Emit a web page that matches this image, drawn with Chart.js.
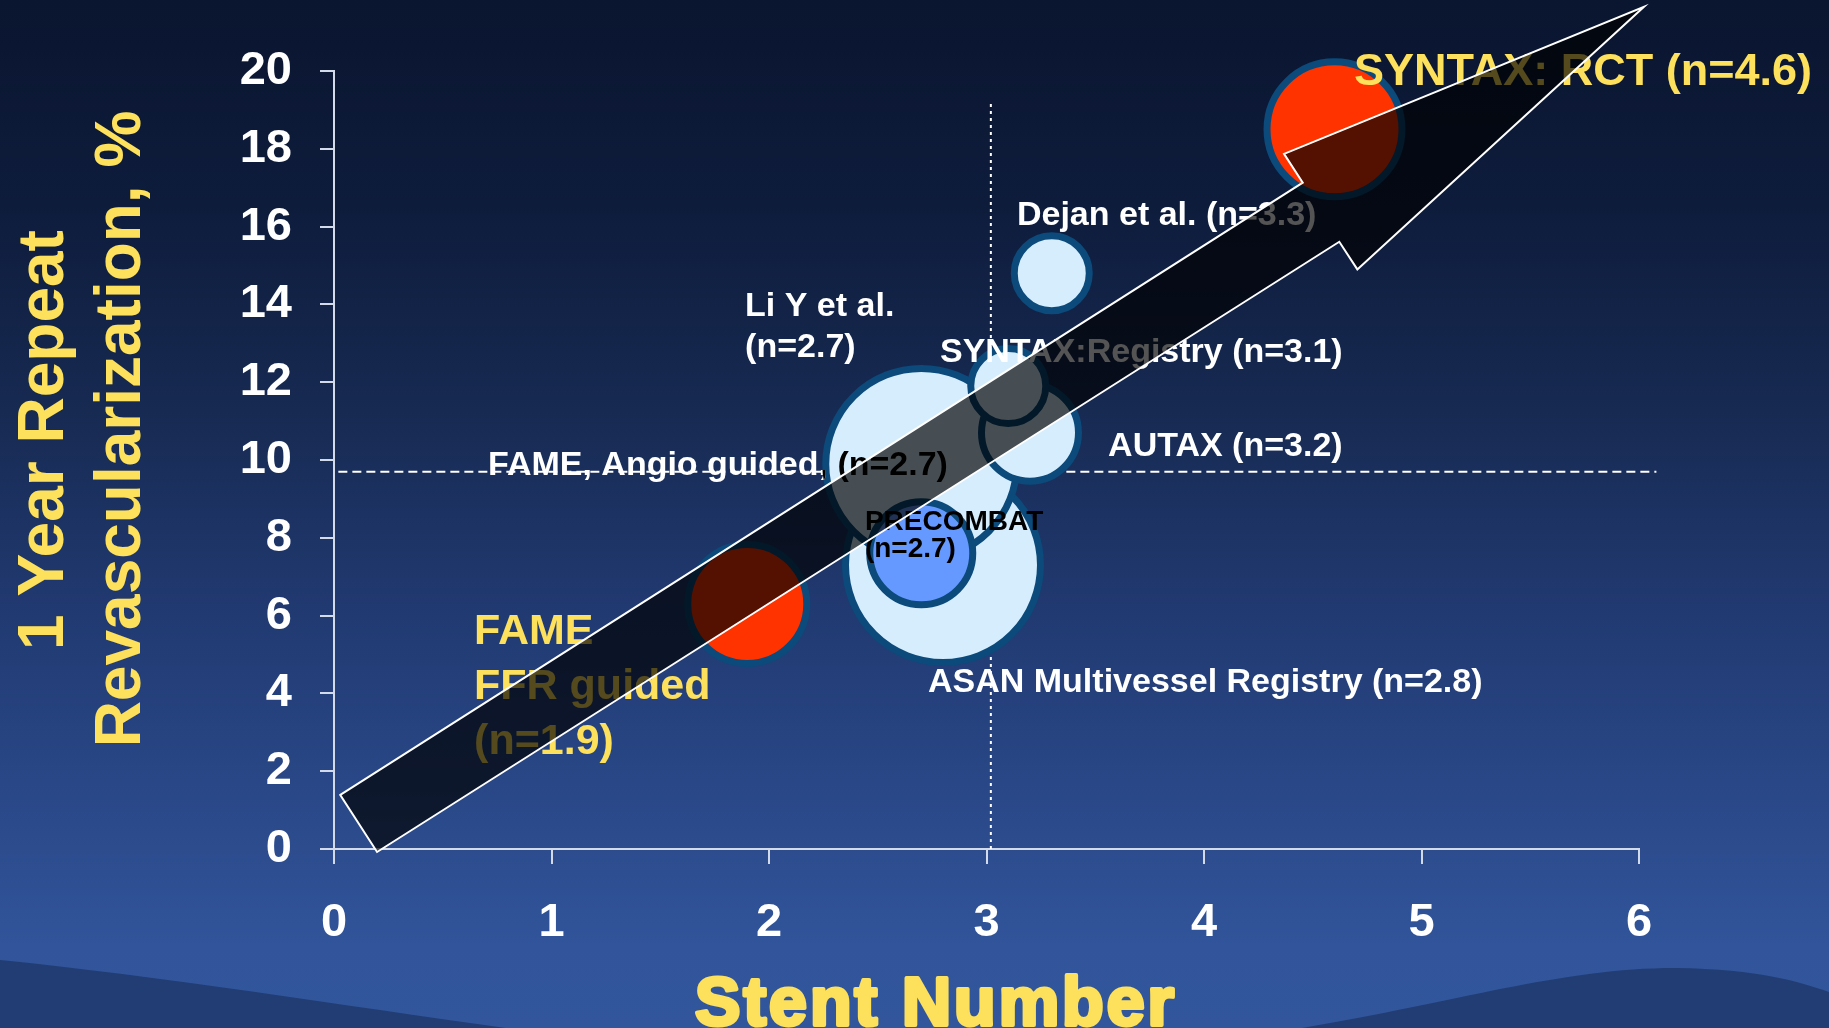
<!DOCTYPE html>
<html>
<head>
<meta charset="utf-8">
<title>Stent number vs 1-year repeat revascularization</title>
<script src="https://cdn.jsdelivr.net/npm/chart.js@4.4.1/dist/chart.umd.min.js"></script>
<style>
  html, body { margin: 0; padding: 0; background: #0a1530; overflow: hidden; }
  canvas { display: block; }
</style>
</head>
<body>
<canvas id="chart" width="1829" height="1028"></canvas>
<script>
// ---- study data -------------------------------------------------------
const studyNames   = ['FAME, FFR guided', 'ASAN Multivessel Registry', 'FAME, Angio guided / Li Y et al.',
                      'PRECOMBAT', 'AUTAX', 'SYNTAX: Registry', 'Dejan et al.', 'SYNTAX: RCT'];
const stentNumber  = [1.9, 2.8, 2.7, 2.7, 3.2, 3.1, 3.3, 4.6];          // mean stents per patient
const repeatRevasc = [6.3, 7.3, 9.9, 7.6, 10.7, 11.9, 14.8, 18.5];       // 1-year repeat revascularization, %
const meanStentNumber = 3.02;
const meanRepeatRevasc = 9.7;

const xTickValues = [0, 1, 2, 3, 4, 5, 6];
const yTickValues = [0, 2, 4, 6, 8, 10, 12, 14, 16, 18, 20];

// ---- appearance --------------------------------------------------------
const FONT = "'Liberation Sans', Arial, Helvetica, sans-serif";
const YELLOW = '#fde05b';
const WHITE = '#ffffff';
const bubbleRadius = [59.5, 97.5, 95.5, 51.5, 48.5, 37.5, 37.5, 67.5];
const bubbleFill   = ['#ff3300', '#d5edfd', '#d5edfd', '#6699ff', '#d5edfd', '#d5edfd', '#d5edfd', '#ff3300'];
const bubbleEdge   = '#0b4a7a';

const nLabel = i => '(n=' + stentNumber[i].toFixed(1) + ')';

// study captions, anchored (left edge, first baseline) in axis units
const captions = [
  { lines: ['Li Y et al.', nLabel(2)], at: [1.89, 13.70], size: 34, gap: 41, color: WHITE },
  { lines: ['FAME, Angio guided, ' + nLabel(2)], at: [0.708, 9.61], size: 34, gap: 0, color: WHITE, insideColor: '#000000', insideOf: 2 },
  { lines: ['SYNTAX:Registry ' + nLabel(5)], at: [2.786, 12.52], size: 34, gap: 0, color: WHITE },
  { lines: ['AUTAX ' + nLabel(4)], at: [3.559, 10.10], size: 34, gap: 0, color: WHITE },
  { lines: ['Dejan et al. ' + nLabel(6)], at: [3.140, 16.05], size: 34, gap: 0, color: WHITE },
  { lines: ['PRECOMBAT', nLabel(3)], at: [2.441, 8.20], size: 28, gap: 27, color: '#000000' },
  { lines: ['ASAN Multivessel Registry ' + nLabel(1)], at: [2.731, 4.04], size: 34, gap: 0, color: WHITE },
  { lines: ['FAME', 'FFR guided', nLabel(0)], at: [0.644, 5.27], size: 43, gap: 55, color: YELLOW },
  { lines: ['SYNTAX: RCT ' + nLabel(7)], at: [4.690, 19.64], size: 45, gap: 0, color: YELLOW }
];

// outline of the trend arrow, in axis units
const trendArrow = [[0.029, 1.39], [4.454, 17.13], [4.368, 17.87], [6.023, 21.65],
                    [4.705, 14.90], [4.622, 15.61], [0.198, -0.077]];

// ---- plugins -----------------------------------------------------------
const backdrop = {
  id: 'backdrop',
  beforeDraw(chart) {
    const { ctx, width, height } = chart;
    ctx.save();
    const g = ctx.createLinearGradient(0, 0, 0, height);
    g.addColorStop(0.00, '#0a152f');
    g.addColorStop(0.20, '#0e1c3c');
    g.addColorStop(0.40, '#172a52');
    g.addColorStop(0.60, '#213a72');
    g.addColorStop(0.80, '#2b4a8b');
    g.addColorStop(0.92, '#31549a');
    g.addColorStop(1.00, '#32569c');
    ctx.fillStyle = g;
    ctx.fillRect(0, 0, width, height);

    ctx.fillStyle = '#213d73';
    ctx.beginPath();
    ctx.moveTo(0, 960);
    ctx.bezierCurveTo(160, 976, 360, 1008, 520, 1030);
    ctx.lineTo(0, 1030);
    ctx.closePath();
    ctx.fill();

    ctx.beginPath();
    ctx.moveTo(1290, 1030);
    ctx.bezierCurveTo(1450, 1004, 1560, 968, 1675, 968);
    ctx.bezierCurveTo(1760, 969, 1800, 982, 1829, 992);
    ctx.lineTo(1829, 1030);
    ctx.closePath();
    ctx.fill();
    ctx.restore();
  },
  beforeDatasetsDraw(chart) {
    const { ctx, scales: { x, y } } = chart;
    ctx.save();
    ctx.strokeStyle = '#ffffff';
    ctx.lineWidth = 2;
    ctx.setLineDash([9, 5]);
    ctx.beginPath();
    ctx.moveTo(x.getPixelForValue(0.02), y.getPixelForValue(meanRepeatRevasc));
    ctx.lineTo(x.getPixelForValue(6.08), y.getPixelForValue(meanRepeatRevasc));
    ctx.stroke();
    ctx.setLineDash([3, 4]);
    ctx.beginPath();
    ctx.moveTo(x.getPixelForValue(meanStentNumber), y.getPixelForValue(0));
    ctx.lineTo(x.getPixelForValue(meanStentNumber), y.getPixelForValue(19.25));
    ctx.stroke();
    ctx.restore();
  },
  afterDatasetsDraw(chart) {
    const { ctx, scales: { x, y } } = chart;
    const meta = chart.getDatasetMeta(0);

    // axis titles
    ctx.save();
    ctx.fillStyle = YELLOW;
    ctx.font = `bold 64px ${FONT}`;
    ctx.textAlign = 'center';
    ctx.textBaseline = 'alphabetic';
    [[63, 440, '1 Year Repeat'], [140, 429, 'Revascularization, %']].forEach(([bx, cy, t]) => {
      ctx.save();
      ctx.translate(bx, cy);
      ctx.rotate(-Math.PI / 2);
      ctx.fillText(t, 0, 0);
      ctx.restore();
    });
    ctx.font = `bold 68px ${FONT}`;
    ctx.letterSpacing = '3px';
    ctx.lineWidth = 4;
    ctx.lineJoin = 'round';
    ctx.strokeStyle = YELLOW;
    ctx.strokeText('Stent Number', 936, 1025);
    ctx.fillText('Stent Number', 936, 1025);
    ctx.restore();

    // captions
    ctx.save();
    ctx.textAlign = 'left';
    ctx.textBaseline = 'alphabetic';
    captions.forEach(c => {
      ctx.font = `bold ${c.size}px ${FONT}`;
      const px = x.getPixelForValue(c.at[0]);
      const py = y.getPixelForValue(c.at[1]);
      const paint = color => {
        ctx.fillStyle = color;
        c.lines.forEach((line, k) => ctx.fillText(line, px, py + k * c.gap));
      };
      paint(c.color);
      if (c.insideColor !== undefined) {
        const el = meta.data[c.insideOf];
        ctx.save();
        ctx.beginPath();
        ctx.arc(el.x, el.y, el.options.radius + el.options.borderWidth / 2, 0, Math.PI * 2);
        ctx.clip();
        paint(c.insideColor);
        ctx.restore();
      }
    });
    ctx.restore();

    // trend arrow across the studies
    ctx.save();
    ctx.beginPath();
    trendArrow.forEach(([ax, ay], k) => {
      const px = x.getPixelForValue(ax), py = y.getPixelForValue(ay);
      if (k === 0) ctx.moveTo(px, py); else ctx.lineTo(px, py);
    });
    ctx.closePath();
    ctx.fillStyle = 'rgba(0, 0, 0, 0.67)';
    ctx.fill();
    ctx.strokeStyle = '#ffffff';
    ctx.lineWidth = 2;
    ctx.lineJoin = 'miter';
    ctx.stroke();
    ctx.restore();
  }
};

// ---- chart -------------------------------------------------------------
const points = stentNumber.map((v, i) => ({ x: v, y: repeatRevasc[i], r: bubbleRadius[i], name: studyNames[i] }));

const axisColor = '#d3dbea';
new Chart(document.getElementById('chart'), {
  type: 'bubble',
  data: {
    datasets: [{
      label: 'Studies',
      data: points,
      backgroundColor: bubbleFill,
      borderColor: bubbleEdge,
      borderWidth: 7,
      hoverBorderWidth: 7,
      clip: false
    }]
  },
  options: {
    responsive: false,
    animation: false,
    events: [],
    layout: { autoPadding: false, padding: { left: 0, top: 71, right: 190, bottom: 0 } },
    plugins: { legend: { display: false }, tooltip: { enabled: false } },
    scales: {
      x: {
        type: 'linear', min: 0, max: 6,
        afterBuildTicks: s => { s.ticks = xTickValues.map(v => ({ value: v })); },
        afterFit: s => { s.height = 179; },
        ticks: { color: WHITE, font: { family: FONT, size: 47, weight: 'bold' }, padding: 31, maxRotation: 0 },
        grid: { drawOnChartArea: false, drawTicks: true, tickLength: 15, color: axisColor, lineWidth: 2 },
        border: { display: true, color: axisColor, width: 2 }
      },
      y: {
        type: 'linear', min: 0, max: 20,
        afterBuildTicks: s => { s.ticks = yTickValues.map(v => ({ value: v })); },
        afterFit: s => { s.width = 334; },
        ticks: { color: WHITE, font: { family: FONT, size: 47, weight: 'bold' }, padding: 28 },
        grid: { drawOnChartArea: false, drawTicks: true, tickLength: 14, color: axisColor, lineWidth: 2 },
        border: { display: true, color: axisColor, width: 2 }
      }
    }
  },
  plugins: [backdrop]
});
</script>
</body>
</html>
